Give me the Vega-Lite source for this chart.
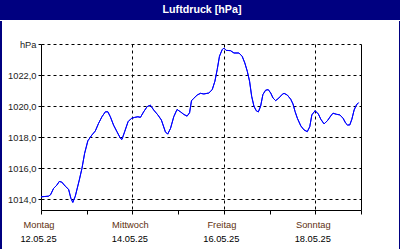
{
  "$schema": "https://vega.github.io/schema/vega-lite/v6.json",
  "background": "white",
  "padding": 0,
  "spacing": 0,
  "config": {
    "view": {"stroke": null},
    "concat": {"spacing": 0},
    "axis": {"labelFont": "Liberation Sans", "labelFontSize": 9.3}
  },
  "datasets": {
    "pressure": [
      {"t": "2025-05-12T00:00", "p": 1014.15},
      {"t": "2025-05-12T03:54", "p": 1014.19},
      {"t": "2025-05-12T05:00", "p": 1014.28},
      {"t": "2025-05-12T06:36", "p": 1014.69},
      {"t": "2025-05-12T08:18", "p": 1014.90},
      {"t": "2025-05-12T09:36", "p": 1015.14},
      {"t": "2025-05-12T10:54", "p": 1015.10},
      {"t": "2025-05-12T12:42", "p": 1014.84},
      {"t": "2025-05-12T14:30", "p": 1014.63},
      {"t": "2025-05-12T15:42", "p": 1014.05},
      {"t": "2025-05-12T16:42", "p": 1013.79},
      {"t": "2025-05-12T18:00", "p": 1014.19},
      {"t": "2025-05-12T20:06", "p": 1015.23},
      {"t": "2025-05-12T21:30", "p": 1015.98},
      {"t": "2025-05-12T22:54", "p": 1016.95},
      {"t": "2025-05-13T00:36", "p": 1017.76},
      {"t": "2025-05-13T02:42", "p": 1018.13},
      {"t": "2025-05-13T04:30", "p": 1018.39},
      {"t": "2025-05-13T06:12", "p": 1018.88},
      {"t": "2025-05-13T08:00", "p": 1019.31},
      {"t": "2025-05-13T09:48", "p": 1019.63},
      {"t": "2025-05-13T11:06", "p": 1019.63},
      {"t": "2025-05-13T12:24", "p": 1019.31},
      {"t": "2025-05-13T14:06", "p": 1018.77},
      {"t": "2025-05-13T15:54", "p": 1018.34},
      {"t": "2025-05-13T17:42", "p": 1017.92},
      {"t": "2025-05-13T18:30", "p": 1017.85},
      {"t": "2025-05-13T19:54", "p": 1018.34},
      {"t": "2025-05-13T21:42", "p": 1018.99},
      {"t": "2025-05-13T23:24", "p": 1019.20},
      {"t": "2025-05-14T01:12", "p": 1019.27},
      {"t": "2025-05-14T02:54", "p": 1019.31},
      {"t": "2025-05-14T04:12", "p": 1019.27},
      {"t": "2025-05-14T05:54", "p": 1019.63},
      {"t": "2025-05-14T07:42", "p": 1019.96},
      {"t": "2025-05-14T09:24", "p": 1020.06},
      {"t": "2025-05-14T11:12", "p": 1019.74},
      {"t": "2025-05-14T13:24", "p": 1019.42},
      {"t": "2025-05-14T15:12", "p": 1019.10},
      {"t": "2025-05-14T17:18", "p": 1018.34},
      {"t": "2025-05-14T18:30", "p": 1018.19},
      {"t": "2025-05-14T20:00", "p": 1018.56},
      {"t": "2025-05-14T21:42", "p": 1019.31},
      {"t": "2025-05-14T23:24", "p": 1019.78},
      {"t": "2025-05-15T01:12", "p": 1019.63},
      {"t": "2025-05-15T03:00", "p": 1019.46},
      {"t": "2025-05-15T04:42", "p": 1019.35},
      {"t": "2025-05-15T06:00", "p": 1019.57},
      {"t": "2025-05-15T07:00", "p": 1020.34},
      {"t": "2025-05-15T08:12", "p": 1020.50},
      {"t": "2025-05-15T10:00", "p": 1020.71},
      {"t": "2025-05-15T11:42", "p": 1020.82},
      {"t": "2025-05-15T13:30", "p": 1020.78},
      {"t": "2025-05-15T16:06", "p": 1020.84},
      {"t": "2025-05-15T17:54", "p": 1021.06},
      {"t": "2025-05-15T19:18", "p": 1021.60},
      {"t": "2025-05-15T20:30", "p": 1022.35},
      {"t": "2025-05-15T21:42", "p": 1023.21},
      {"t": "2025-05-15T23:06", "p": 1023.63},
      {"t": "2025-05-16T00:00", "p": 1023.74},
      {"t": "2025-05-16T01:12", "p": 1023.59},
      {"t": "2025-05-16T03:30", "p": 1023.57},
      {"t": "2025-05-16T05:18", "p": 1023.42},
      {"t": "2025-05-16T07:54", "p": 1023.42},
      {"t": "2025-05-16T09:36", "p": 1023.21},
      {"t": "2025-05-16T11:00", "p": 1022.78},
      {"t": "2025-05-16T12:18", "p": 1022.24},
      {"t": "2025-05-16T13:30", "p": 1021.60},
      {"t": "2025-05-16T14:36", "p": 1020.63},
      {"t": "2025-05-16T15:48", "p": 1019.99},
      {"t": "2025-05-16T17:00", "p": 1019.70},
      {"t": "2025-05-16T18:06", "p": 1019.62},
      {"t": "2025-05-16T19:18", "p": 1019.99},
      {"t": "2025-05-16T20:30", "p": 1020.74},
      {"t": "2025-05-16T21:54", "p": 1021.02},
      {"t": "2025-05-16T23:18", "p": 1021.06},
      {"t": "2025-05-17T00:36", "p": 1020.84},
      {"t": "2025-05-17T01:48", "p": 1020.52},
      {"t": "2025-05-17T03:12", "p": 1020.35},
      {"t": "2025-05-17T04:54", "p": 1020.52},
      {"t": "2025-05-17T06:42", "p": 1020.76},
      {"t": "2025-05-17T07:36", "p": 1020.82},
      {"t": "2025-05-17T09:18", "p": 1020.71},
      {"t": "2025-05-17T11:06", "p": 1020.44},
      {"t": "2025-05-17T12:18", "p": 1020.13},
      {"t": "2025-05-17T13:24", "p": 1019.64},
      {"t": "2025-05-17T14:36", "p": 1019.21},
      {"t": "2025-05-17T16:24", "p": 1018.72},
      {"t": "2025-05-17T18:06", "p": 1018.46},
      {"t": "2025-05-17T19:48", "p": 1018.35},
      {"t": "2025-05-17T21:06", "p": 1018.67},
      {"t": "2025-05-17T22:12", "p": 1019.43},
      {"t": "2025-05-17T23:54", "p": 1019.70},
      {"t": "2025-05-18T01:36", "p": 1019.49},
      {"t": "2025-05-18T02:54", "p": 1019.15},
      {"t": "2025-05-18T04:36", "p": 1018.85},
      {"t": "2025-05-18T06:24", "p": 1019.06},
      {"t": "2025-05-18T08:06", "p": 1019.36},
      {"t": "2025-05-18T09:18", "p": 1019.54},
      {"t": "2025-05-18T11:06", "p": 1019.47},
      {"t": "2025-05-18T12:54", "p": 1019.43},
      {"t": "2025-05-18T14:36", "p": 1019.21},
      {"t": "2025-05-18T16:00", "p": 1018.89},
      {"t": "2025-05-18T16:54", "p": 1018.78},
      {"t": "2025-05-18T18:06", "p": 1018.78},
      {"t": "2025-05-18T19:12", "p": 1019.15},
      {"t": "2025-05-18T20:24", "p": 1019.75},
      {"t": "2025-05-18T21:36", "p": 1020.07},
      {"t": "2025-05-18T22:42", "p": 1020.22}
    ]
  },
  "vconcat": [
    {
      "width": 400,
      "height": 20,
      "view": {"fill": "#000080"},
      "data": {"values": [{"label": "Luftdruck [hPa]"}]},
      "mark": {"type": "text", "font": "Liberation Sans", "fontSize": 10.7, "fontWeight": "bold", "color": "white", "dx": 2},
      "encoding": {"text": {"field": "label"}}
    },
    {
      "spacing": 0,
      "hconcat": [
        {"width": 2, "height": 228, "view": {"fill": "#000080"}, "data": {"values": [{}]}, "mark": {"type": "text", "text": ""}},
        {"width": 5, "height": 10, "data": {"values": [{}]}, "mark": {"type": "text", "text": ""}},
        {
          "spacing": 0,
          "vconcat": [
            {"width": 10, "height": 19, "data": {"values": [{}]}, "mark": {"type": "text", "text": ""}},
            {
              "width": 320,
              "height": 166,
              "data": {"name": "pressure"},
              "layer": [
                {
                  "mark": {"type": "line", "color": "#0000ff", "strokeWidth": 1},
                  "encoding": {
                    "x": {
                      "field": "t",
                      "type": "temporal",
                      "scale": {"domain": [{"year": 2025, "month": 5, "date": 12}, {"year": 2025, "month": 5, "date": 19}]},
                      "axis": {
                        "orient": "bottom",
                        "title": null,
                        "values": [
                          {"year": 2025, "month": 5, "date": 12},
                          {"year": 2025, "month": 5, "date": 13},
                          {"year": 2025, "month": 5, "date": 14},
                          {"year": 2025, "month": 5, "date": 15},
                          {"year": 2025, "month": 5, "date": 16},
                          {"year": 2025, "month": 5, "date": 17},
                          {"year": 2025, "month": 5, "date": 18},
                          {"year": 2025, "month": 5, "date": 19}
                        ],
                        "labelExpr": "date(datum.value) % 2 == 0 && date(datum.value) < 19 ? ['Sonntag','Montag','Dienstag','Mittwoch','Donnerstag','Freitag','Samstag'][day(datum.value)] : ''",
                        "labelColor": "#603010",
                        "labelOffset": -2.5,
                        "labelPadding": 6,
                        "labelFlush": false,
                        "labelOverlap": false,
                        "tickSize": 4,
                        "tickColor": "black",
                        "domainColor": "black",
                        "grid": true,
                        "gridColor": "black",
                        "gridDash": [3, 3],
                        "gridOpacity": {"condition": {"test": "date(datum.value) % 2 == 0 && date(datum.value) > 12 && date(datum.value) < 19", "value": 1}, "value": 0}
                      }
                    },
                    "y": {
                      "field": "p",
                      "type": "quantitative",
                      "scale": {"domain": [1013.3, 1024], "nice": false, "zero": false},
                      "axis": {
                        "title": null,
                        "values": [1014, 1016, 1018, 1020, 1022, 1024],
                        "labelExpr": "datum.value == 1024 ? 'hPa' : replace(format(datum.value, '.1f'), '.', ',')",
                        "labelColor": "#1a1a1a",
                        "labelPadding": 2,
                        "tickSize": 3,
                        "tickColor": "black",
                        "domainColor": "black",
                        "grid": true,
                        "gridColor": "black",
                        "gridDash": [3, 3]
                      }
                    }
                  }
                },
                {
                  "mark": {"type": "line", "color": "#0000ff", "strokeWidth": 1},
                  "encoding": {
                    "x": {
                      "field": "t",
                      "type": "temporal",
                      "scale": {"domain": [{"year": 2025, "month": 5, "date": 12}, {"year": 2025, "month": 5, "date": 19}]},
                      "axis": {
                        "orient": "bottom",
                        "title": null,
                        "values": [
                          {"year": 2025, "month": 5, "date": 12},
                          {"year": 2025, "month": 5, "date": 14},
                          {"year": 2025, "month": 5, "date": 16},
                          {"year": 2025, "month": 5, "date": 18}
                        ],
                        "labelExpr": "timeFormat(datum.value, '%d.%m.%y')",
                        "labelColor": "black",
                        "labelOffset": -3,
                        "labelPadding": 24,
                        "labelFlush": false,
                        "labelOverlap": false,
                        "ticks": false,
                        "tickSize": 0,
                        "domain": false,
                        "grid": false
                      }
                    },
                    "y": {
                      "field": "p",
                      "type": "quantitative",
                      "scale": {"domain": [1013.3, 1024], "nice": false, "zero": false},
                      "axis": {"orient": "right", "title": null, "labels": false, "ticks": false, "grid": false, "domainColor": "black"}
                    }
                  }
                }
              ],
              "resolve": {"axis": {"x": "independent", "y": "independent"}}
            }
          ]
        },
        {"width": 37, "height": 10, "data": {"values": [{}]}, "mark": {"type": "text", "text": ""}},
        {"width": 2, "height": 228, "view": {"fill": "#000080"}, "data": {"values": [{}]}, "mark": {"type": "text", "text": ""}}
      ]
    },
    {"width": 400, "height": 2, "view": {"fill": "#000080"}, "data": {"values": [{}]}, "mark": {"type": "text", "text": ""}}
  ]
}
